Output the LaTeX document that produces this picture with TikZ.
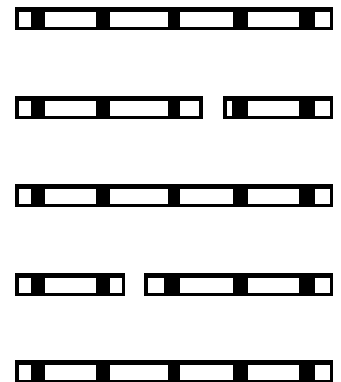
\documentclass[tikz,border=0pt]{standalone}
\usepackage{tikz}

\begin{document}
\begin{tikzpicture}[x=0.03cm, y=-0.03cm,
				barpiece/.style={fill=black},
				window/.style={fill=white}
				]
				\useasboundingbox (0,0) rectangle (341,382);
				% unbroken bars
				\foreach \t in {7,184,360} {
					\fill[barpiece] (15,\t) rectangle (333,\t+22.5);
					\foreach \a/\b in {19/31,45/96,110/168,180/233,248/299,315/329.5}
						\fill[window] (\a,\t+4.5) rectangle (\b,\t+19.5);
				}
				% second bar, broken in the third window
				\fill[barpiece] (15,96) rectangle (202.5,118.5);
				\fill[barpiece] (223,96) rectangle (333,118.5);
				\foreach \a/\b in {19/31,45/96,110/168,180/199,227/232,248/299,315/329.5}
					\fill[window] (\a,100.5) rectangle (\b,115.5);
				% fourth bar, broken after the second window
				\fill[barpiece] (15,273) rectangle (125,295.5);
				\fill[barpiece] (144,273) rectangle (333,295.5);
				\foreach \a/\b in {19/31,45/96,110/121.5,148/164,180/233,248/299,315/329.5}
					\fill[window] (\a,277.5) rectangle (\b,292.5);
			\end{tikzpicture}
\end{document}
